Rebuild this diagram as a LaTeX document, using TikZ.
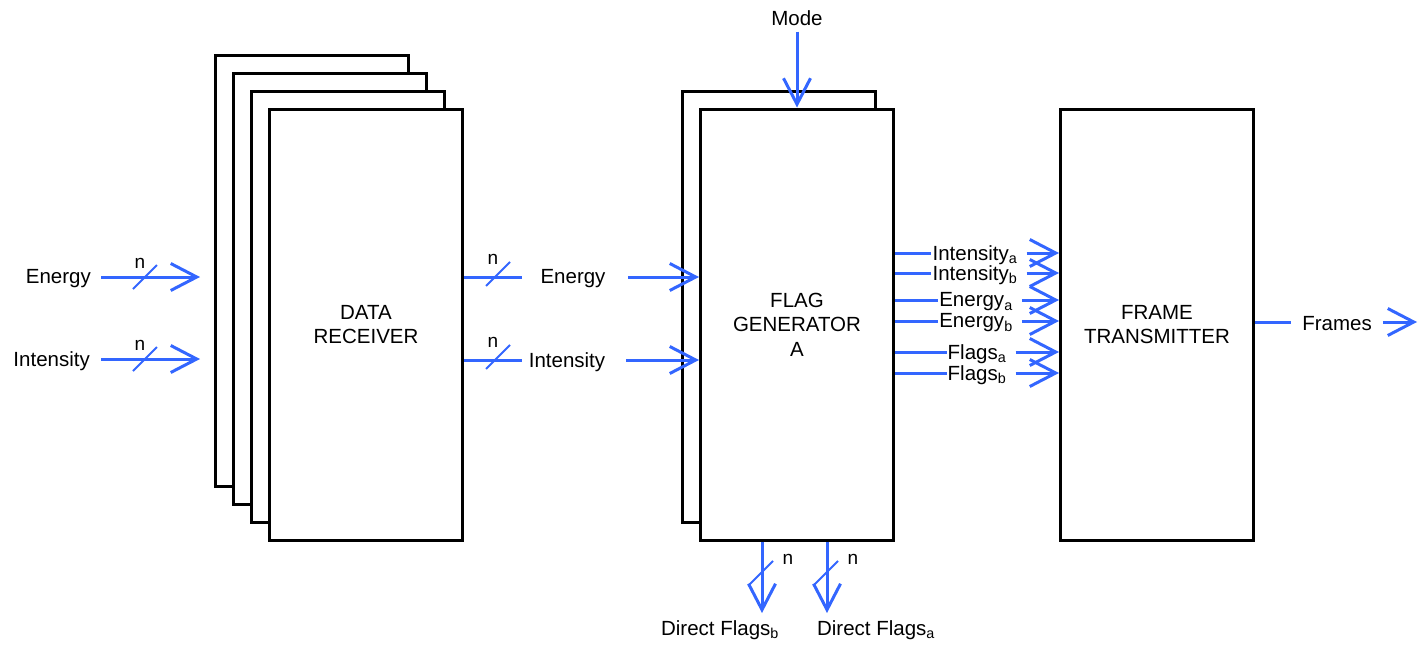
\documentclass[tikz,border=0pt]{standalone}
\usepackage{fontspec}
\setmainfont{Liberation Sans}
\usetikzlibrary{arrows.meta}
\definecolor{wireblue}{HTML}{3366FF}
\tikzset{
  blk/.style={draw=black, line width=3pt, fill=white, minimum width=193pt, minimum height=431pt, inner sep=0pt, align=center, font=\fontsize{20.5}{24.6}\selectfont},
  lbl/.style={inner sep=0pt, yshift=-2pt, font=\fontsize{20.5}{24.6}\selectfont},
  nlbl/.style={inner sep=0pt, font=\fontsize{19}{22}\selectfont},
  wire/.style={draw=wireblue, line width=3pt},
  arr/.style={draw=wireblue, line width=3pt, -{Straight Barb[length=26pt,width=27pt]}},
  slash/.style={draw=wireblue, line width=1.8pt}
}
\begin{document}
\begin{tikzpicture}[x=1pt,y=-1pt]
\useasboundingbox (0,0) rectangle (1418,645);
% Data receiver stack
\node[blk] (dr4) at (312,270.5) {};
\node[blk] (dr3) at (330,288.5) {};
\node[blk] (dr2) at (348,306.5) {};
\node[blk] (dr) at (366,324.5) {DATA\\RECEIVER};
% Flag generator stack
\node[blk] (fg2) at (779,306.5) {};
\node[blk] (fg) at (797,324.5) {FLAG\\GENERATOR\\A};
% Frame transmitter
\node[blk] (ft) at (1157,324.5) {FRAME\\TRANSMITTER};

% Left inputs
\node[lbl, anchor=east] (inE) at (91,277) {Energy};
\node[lbl, anchor=east] (inI) at (90,359) {Intensity};
\coordinate (inEend) at (200,277);
\coordinate (inIend) at (200,359);
\draw[arr, shorten <=10pt] (inE.east |- inEend) -- (inEend);
\draw[arr, shorten <=11pt] (inI.east |- inIend) -- (inIend);
\draw[slash] (133,289) -- (157,265);
\draw[slash] (133,371) -- (157,347);
\node[nlbl] (n1) at (140,263) {n};
\node[nlbl] (n2) at (140,345) {n};

% Middle connections
\node[lbl] (mE) at (573,277) {Energy};
\node[lbl] (mI) at (567,360) {Intensity};
\coordinate (mEy) at (0,277);
\coordinate (mIy) at (0,360);
\draw[wire] (dr.east |- mEy) -- (522,277);
\draw[arr] (628,277) -- (fg.west |- mEy);
\draw[wire] (dr.east |- mIy) -- (522,360);
\draw[arr] (626,360) -- (fg.west |- mIy);
\draw[slash] (486,286) -- (510,262);
\draw[slash] (486,369) -- (510,345);
\node[nlbl] (n3) at (493,259) {n};
\node[nlbl] (n4) at (493,342) {n};

% Mode
\node[lbl] (mode) at (797,16) {Mode};
\draw[arr, shorten <=6pt] (mode.south) -- (fg.north);

% Outputs between FG and FT
\foreach \nm/\y/\txt/\cx in {oIa/253/Intensity\textsubscript{a}/975, oIb/273/Intensity\textsubscript{b}/975, oEa/300/Energy\textsubscript{a}/976, oEb/321/Energy\textsubscript{b}/976, oFa/352/Flags\textsubscript{a}/977, oFb/373/Flags\textsubscript{b}/977}{
  \node[lbl, inner xsep=1pt] (\nm) at (\cx,\y) {\txt};
  \coordinate (\nm y) at (0,\y);
  \draw[wire] (fg.east |- \nm y) -- (\nm.west |- \nm y);
  \draw[arr, shorten <=8pt] (\nm.east |- \nm y) -- (ft.west |- \nm y);
}

% Frames
\node[lbl] (frames) at (1337,322) {Frames};
\coordinate (framesEnd) at (1417,322);
\draw[wire, shorten >=11pt] (ft.east |- framesEnd) -- (frames.west |- framesEnd);
\draw[arr, shorten <=11pt] (frames.east |- framesEnd) -- (framesEnd);

% Direct flags
\coordinate (dfb) at (762,613);
\coordinate (dfa) at (827,613);
\draw[arr] (fg.south -| dfb) -- (dfb);
\draw[arr] (fg.south -| dfa) -- (dfa);
\draw[slash] (749,585) -- (773,561);
\draw[slash] (814,585) -- (838,561);
\node[nlbl] (n5) at (788,559) {n};
\node[nlbl] (n6) at (853,559) {n};
\node[lbl] (dfbl) at (720,628) {Direct Flags\textsubscript{b}};
\node[lbl] (dfal) at (876,628) {Direct Flags\textsubscript{a}};
\end{tikzpicture}
\end{document}
